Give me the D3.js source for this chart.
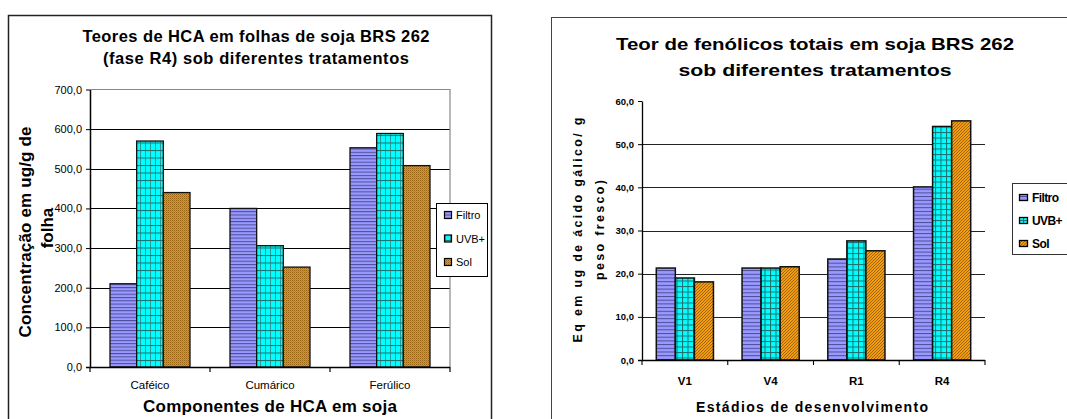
<!DOCTYPE html>
<html>
<head>
<meta charset="utf-8">
<script src="https://cdn.jsdelivr.net/npm/d3@7"></script>
<style>
  body { margin: 0; background: #fff; }
  text { font-family: "Liberation Sans", Arial, sans-serif; }
</style>
</head>
<body>
<div id="chart"></div>
<script>
// series shared by both charts
const seriesNames = ["Filtro", "UVB+", "Sol"];

// left chart: HCA in leaves (phase R4)
const hcaCategories = ["Caféico", "Cumárico", "Ferúlico"];
const hcaFiltro = [210, 400, 553];
const hcaUVB = [570, 306, 589];
const hcaSol = [440, 252, 508];
const hcaTicks = [0, 100, 200, 300, 400, 500, 600, 700];

// right chart: total phenolics per stage
const fenCategories = ["V1", "V4", "R1", "R4"];
const fenFiltro = [21.3, 21.3, 23.4, 40.1];
const fenUVB = [19.0, 21.3, 27.6, 54.1];
const fenSol = [18.1, 21.6, 25.3, 55.4];
const fenTicks = [0, 10, 20, 30, 40, 50, 60];

const width = 1067;
const height = 419;
const fmt = v => d3.format(".1f")(v).replace(".", ",");

const svg = d3.select("#chart")
    .append("svg")
    .attr("width", width)
    .attr("height", height);

// fill patterns
const defs = svg.append("defs");

function hatchPattern(id, w, h, bg, draw) {
    const p = defs.append("pattern")
        .attr("id", id)
        .attr("patternUnits", "userSpaceOnUse")
        .attr("width", w)
        .attr("height", h);
    p.append("rect").attr("width", w).attr("height", h).attr("fill", bg);
    draw(p);
}

// Filtro: lavender with horizontal lines
hatchPattern("filtroL", 4, 3.3, "#9999ff", p => {
    p.append("rect").attr("y", 0).attr("width", 4).attr("height", 1).attr("fill", "#4d4d99");
});
hatchPattern("filtroR", 4, 3.7, "#9999ff", p => {
    p.append("rect").attr("y", 0).attr("width", 4).attr("height", 1).attr("fill", "#4d4d99");
});
// UVB+: cyan grid
hatchPattern("uvbL", 5, 7.5, "#00ffff", p => {
    p.append("rect").attr("x", 0).attr("width", 1).attr("height", 7.5).attr("fill", "#2a9a9a");
    p.append("rect").attr("y", 0).attr("width", 5).attr("height", 1).attr("fill", "#1f6f6f");
});
hatchPattern("uvbR", 5.5, 5.5, "#00ffff", p => {
    p.append("rect").attr("x", 0).attr("width", 1).attr("height", 5.5).attr("fill", "#1f6f6f");
    p.append("rect").attr("y", 0).attr("width", 5.5).attr("height", 1).attr("fill", "#1f6f6f");
});
// Sol: orange fine weave (left) and diagonal lines (right)
hatchPattern("solL", 2, 2, "#e8930f", p => {
    p.append("rect").attr("x", 0).attr("y", 0).attr("width", 1).attr("height", 1).attr("fill", "#9a6410");
    p.append("rect").attr("x", 1).attr("y", 1).attr("width", 1).attr("height", 1).attr("fill", "#c77e10");
});
hatchPattern("solR", 3, 3, "#f29a10", p => {
    p.append("path").attr("d", "M0,3 L3,0 M-1,1 L1,-1 M2,4 L4,2")
        .attr("stroke", "#8a5a10").attr("stroke-width", 0.8);
});

// ---------------- LEFT CHART ----------------
const L = { left: 90, right: 450, top: 89.5, bottom: 367 };
const gL = svg.append("g");

gL.append("rect")
    .attr("x", 8.5).attr("y", 15.5)
    .attr("width", 483).attr("height", 420)
    .attr("fill", "none")
    .attr("stroke", "#222")
    .attr("stroke-width", 1.5);

gL.append("text").attr("x", 256).attr("y", 41.5)
    .attr("text-anchor", "middle").attr("font-size", 16.5).attr("font-weight", "bold")
    .attr("textLength", 347).attr("lengthAdjust", "spacing")
    .text("Teores de HCA em folhas de soja BRS 262");
gL.append("text").attr("x", 256).attr("y", 63.5)
    .attr("text-anchor", "middle").attr("font-size", 16.5).attr("font-weight", "bold")
    .attr("textLength", 306).attr("lengthAdjust", "spacing")
    .text("(fase R4) sob diferentes tratamentos");

const xL0 = d3.scaleBand().domain(hcaCategories).range([L.left, L.right]).padding(0);
const xL1 = d3.scaleBand().domain(seriesNames)
    .range([xL0.bandwidth() / 6, xL0.bandwidth() * 5 / 6]).padding(0);
const yL = d3.scaleLinear().domain([0, 700]).range([L.bottom, L.top]);

// grid lines
gL.append("g").selectAll("line")
    .data(hcaTicks.filter(t => t > 0 && t < 700))
    .join("line")
    .attr("x1", L.left).attr("x2", L.right)
    .attr("y1", d => Math.round(yL(d)) + 0.5).attr("y2", d => Math.round(yL(d)) + 0.5)
    .attr("stroke", "#000").attr("stroke-width", 1.2);

// plot area border (top / right)
gL.append("path")
    .attr("d", `M${L.left},${yL(700)} H${L.right} V${L.bottom}`)
    .attr("fill", "none").attr("stroke", "#888").attr("stroke-width", 1.2);

const hcaSeries = [hcaFiltro, hcaUVB, hcaSol];
const fillsL = ["url(#filtroL)", "url(#uvbL)", "url(#solL)"];
hcaSeries.forEach((vals, si) => {
    gL.append("g").selectAll("rect")
        .data(vals)
        .join("rect")
        .attr("x", (d, i) => xL0(hcaCategories[i]) + xL1(seriesNames[si]))
        .attr("y", d => yL(d))
        .attr("width", xL1.bandwidth())
        .attr("height", d => yL(0) - yL(d))
        .attr("fill", fillsL[si])
        .attr("stroke", "#111")
        .attr("stroke-width", 1.3);
});

// y axis
const yAxisL = gL.append("g")
    .attr("transform", `translate(${L.left},0)`)
    .call(d3.axisLeft(yL).tickValues(hcaTicks).tickFormat(fmt).tickSize(4).tickSizeOuter(0).tickPadding(4));
yAxisL.select(".domain").attr("stroke-width", 1.5);
yAxisL.selectAll("text").attr("font-size", 11).attr("font-family", "Liberation Sans, Arial");

// x axis
gL.append("line").attr("x1", L.left - 4).attr("x2", L.right)
    .attr("y1", L.bottom + 0.5).attr("y2", L.bottom + 0.5)
    .attr("stroke", "#000").attr("stroke-width", 1.5);
gL.append("g").selectAll("line")
    .data(hcaCategories.concat(["end"]))
    .join("line")
    .attr("x1", (d, i) => L.left + i * xL0.step()).attr("x2", (d, i) => L.left + i * xL0.step())
    .attr("y1", L.bottom).attr("y2", L.bottom + 5)
    .attr("stroke", "#000").attr("stroke-width", 1.2);
gL.append("g").selectAll("text")
    .data(hcaCategories)
    .join("text")
    .attr("x", d => xL0(d) + xL0.bandwidth() / 2)
    .attr("y", 389)
    .attr("text-anchor", "middle").attr("font-size", 11.5)
    .text(d => d);

gL.append("text").attr("x", 270).attr("y", 412)
    .attr("text-anchor", "middle").attr("font-size", 17).attr("font-weight", "bold")
    .attr("textLength", 254).attr("lengthAdjust", "spacing")
    .text("Componentes de HCA em soja");

gL.append("text").attr("transform", "translate(31,232) rotate(-90)")
    .attr("text-anchor", "middle").attr("font-size", 17).attr("font-weight", "bold")
    .attr("textLength", 211).attr("lengthAdjust", "spacing")
    .text("Concentração em ug/g de");
gL.append("text").attr("transform", "translate(53,228) rotate(-90)")
    .attr("text-anchor", "middle").attr("font-size", 17).attr("font-weight", "bold")
    .text("folha");

// legend
const legL = gL.append("g");
legL.append("rect").attr("x", 436.5).attr("y", 203.5).attr("width", 51).attr("height", 73)
    .attr("fill", "#fff").attr("stroke", "#000").attr("stroke-width", 1);
seriesNames.forEach((s, i) => {
    legL.append("rect").attr("x", 444.5).attr("y", 211.5 + i * 23.5).attr("width", 7).attr("height", 7)
        .attr("fill", fillsL[i]).attr("stroke", "#000").attr("stroke-width", 1.2);
    legL.append("text").attr("x", 456).attr("y", 219 + i * 23.5)
        .attr("font-size", 11).text(s);
});

// ---------------- RIGHT CHART ----------------
const R = { left: 642, right: 985, top: 101, bottom: 360 };
const gR = svg.append("g");

gR.append("rect")
    .attr("x", 551.5).attr("y", 17.5)
    .attr("width", 560).attr("height", 420)
    .attr("fill", "none")
    .attr("stroke", "#444")
    .attr("stroke-width", 1);

gR.append("text").attr("x", 815).attr("y", 50)
    .attr("text-anchor", "middle").attr("font-size", 17).attr("font-weight", "bold")
    .attr("textLength", 398).attr("lengthAdjust", "spacingAndGlyphs")
    .text("Teor de fenólicos totais em soja BRS 262");
gR.append("text").attr("x", 815).attr("y", 76)
    .attr("text-anchor", "middle").attr("font-size", 17).attr("font-weight", "bold")
    .attr("textLength", 273).attr("lengthAdjust", "spacingAndGlyphs")
    .text("sob diferentes tratamentos");

const xR0 = d3.scaleBand().domain(fenCategories).range([R.left, R.right]).padding(0);
const xR1 = d3.scaleBand().domain(seriesNames)
    .range([xR0.bandwidth() / 6, xR0.bandwidth() * 5 / 6]).padding(0);
const yR = d3.scaleLinear().domain([0, 60]).range([R.bottom, R.top]);

gR.append("g").selectAll("line")
    .data(fenTicks.filter(t => t > 0 && t < 60))
    .join("line")
    .attr("x1", R.left).attr("x2", R.right)
    .attr("y1", d => Math.round(yR(d)) + 0.5).attr("y2", d => Math.round(yR(d)) + 0.5)
    .attr("stroke", "#222").attr("stroke-width", 1.1);

const fenSeries = [fenFiltro, fenUVB, fenSol];
const fillsR = ["url(#filtroR)", "url(#uvbR)", "url(#solR)"];
fenSeries.forEach((vals, si) => {
    gR.append("g").selectAll("rect")
        .data(vals)
        .join("rect")
        .attr("x", (d, i) => xR0(fenCategories[i]) + xR1(seriesNames[si]))
        .attr("y", d => yR(d))
        .attr("width", xR1.bandwidth())
        .attr("height", d => yR(0) - yR(d))
        .attr("fill", fillsR[si])
        .attr("stroke", "#111")
        .attr("stroke-width", 1.5);
});

const yAxisR = gR.append("g")
    .attr("transform", `translate(${R.left},0)`)
    .call(d3.axisLeft(yR).tickValues(fenTicks).tickFormat(fmt).tickSize(4).tickSizeOuter(0).tickPadding(4));
yAxisR.select(".domain").attr("stroke-width", 1.3);
yAxisR.selectAll("text").attr("font-size", 9.5).attr("font-weight", "bold")
    .attr("font-family", "Liberation Sans, Arial");

gR.append("line").attr("x1", R.left - 4).attr("x2", R.right)
    .attr("y1", R.bottom + 0.5).attr("y2", R.bottom + 0.5)
    .attr("stroke", "#000").attr("stroke-width", 1.3);
gR.append("g").selectAll("line")
    .data(fenCategories.concat(["end"]))
    .join("line")
    .attr("x1", (d, i) => R.left + i * xR0.step()).attr("x2", (d, i) => R.left + i * xR0.step())
    .attr("y1", R.bottom).attr("y2", R.bottom + 5)
    .attr("stroke", "#000").attr("stroke-width", 1.1);
gR.append("g").selectAll("text")
    .data(fenCategories)
    .join("text")
    .attr("x", d => xR0(d) + xR0.bandwidth() / 2)
    .attr("y", 385)
    .attr("text-anchor", "middle").attr("font-size", 11.5).attr("font-weight", "bold")
    .text(d => d);

gR.append("text").attr("x", 812).attr("y", 412)
    .attr("text-anchor", "middle").attr("font-size", 14).attr("font-weight", "bold")
    .attr("textLength", 232).attr("lengthAdjust", "spacing")
    .text("Estádios de desenvolvimento");

gR.append("text").attr("transform", "translate(582,230) rotate(-90)")
    .attr("text-anchor", "middle").attr("font-size", 12.5).attr("font-weight", "bold")
    .attr("textLength", 225).attr("lengthAdjust", "spacing")
    .text("Eq em ug de ácido gálico/ g");
gR.append("text").attr("transform", "translate(604,230) rotate(-90)")
    .attr("text-anchor", "middle").attr("font-size", 12.5).attr("font-weight", "bold")
    .attr("textLength", 100).attr("lengthAdjust", "spacing")
    .text("peso fresco)");

const legR = gR.append("g");
legR.append("rect").attr("x", 1012.5).attr("y", 183.5).attr("width", 80).attr("height", 71)
    .attr("fill", "#fff").attr("stroke", "#333").attr("stroke-width", 1);
seriesNames.forEach((s, i) => {
    legR.append("rect").attr("x", 1019.5).attr("y", 194.5 + i * 23).attr("width", 8).attr("height", 6)
        .attr("fill", fillsR[i]).attr("stroke", "#000").attr("stroke-width", 1.3);
    legR.append("text").attr("x", 1032).attr("y", 202 + i * 23)
        .attr("font-size", 12).attr("font-weight", "bold").attr("letter-spacing", -0.6)
        .text(s);
});
</script>
</body>
</html>
